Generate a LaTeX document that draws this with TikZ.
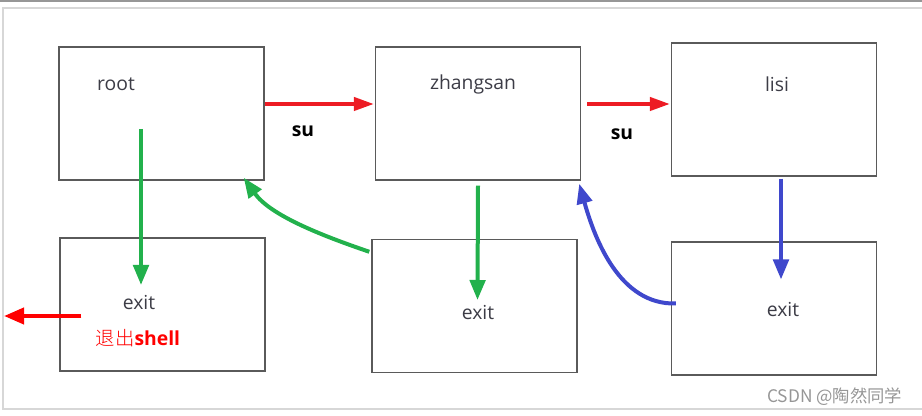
\documentclass[tikz,border=0pt]{standalone}
\usepackage{fontspec}
\setmainfont{Open Sans}
\newfontfamily\cjkfont{Noto Sans CJK SC}
\newfontfamily\cjklight{Noto Sans CJK SC Light}
\usepackage{tikz}
\usetikzlibrary{arrows.meta, positioning, calc}
\definecolor{boxgray}{RGB}{90,90,90}
\definecolor{txtgray}{RGB}{60,60,70}
\definecolor{sured}{RGB}{237,28,36}
\definecolor{quitred}{RGB}{255,0,0}
\definecolor{exgreen}{RGB}{34,177,76}
\definecolor{exblue}{RGB}{63,72,204}
\definecolor{framegray}{RGB}{215,215,215}
\definecolor{markgray}{RGB}{150,150,150}
\tikzset{
  box/.style={rectangle, draw=boxgray, line width=1.1pt,
    minimum width=153.75pt, minimum height=99.75pt, inner sep=0pt},
  usrlabel/.style={font=\fontsize{14.5}{16}\selectfont, color=txtgray},
  sulabel/.style={font=\fontsize{14.5}{16}\selectfont\bfseries, color=black},
  redarrow/.style={-{Triangle[length=15pt, width=10pt]}, line width=2.6pt, color=sured},
  greenarrow/.style={-{Triangle[length=15pt, width=11.5pt]}, line width=3pt, color=exgreen},
  bluearrow/.style={-{Triangle[length=15pt, width=11.5pt]}, line width=3pt, color=exblue},
  quitarrow/.style={-{Triangle[length=15pt, width=12pt]}, line width=3pt, color=quitred}
}
\begin{document}
\begin{tikzpicture}[x=0.75pt, y=-0.75pt]
  \useasboundingbox (0,0) rectangle (922,416);
  % page frame
  \draw[color=markgray, line width=0.8pt] (0,1) -- (922,1);
  \draw[color=framegray, line width=1pt] (3,8) rectangle (930,409);

  % user boxes (top row)
  \node[box] (root) at (161.5,113.5) {};
  \node[box] (zhangsan) at (478,113.5) {};
  \node[box] (lisi) at (774,109.5) {};
  \node[usrlabel] (rootlbl) at (116,84) {root};
  \node[usrlabel] (zhanglbl) at (473,84) {zhangsan};
  \node[usrlabel] (lisilbl) at (777,84) {lisi};

  % exit boxes (bottom row)
  \node[box] (exitroot) at (162.5,304.5) {};
  \node[box] (exitzhang) at (474.5,306) {};
  \node[box] (exitlisi) at (774,308.5) {};
  \node[usrlabel] (exitlbl1) at (139,303) {exit};
  \node[font=\fontsize{14.5}{16}\selectfont, color=quitred] (quitlbl) at (138,338) {{\cjklight\mdseries 退出}\textbf{shell}};
  \node[usrlabel] (exitlbl2) at (478,313) {exit};
  \node[usrlabel] (exitlbl3) at (783,310) {exit};

  % su arrows
  \draw[redarrow] ($(root.east)+(0,-9.5)$) -- ($(zhangsan.west)+(-1,-9.5)$);
  \draw[redarrow] ($(zhangsan.east)+(6,-9.5)$) -- ($(lisi.west)+(-1,-5.5)$);
  \node[sulabel] (su1) at (303,131) {su};
  \node[sulabel] (su2) at (622,134) {su};

  % exit arrows
  \draw[greenarrow] ($(root.center)+(-20.5,15.5)$) -- ($(exitroot.center)+(-21.5,-19.5)$);
  \draw[greenarrow] ($(zhangsan.south)+(0,5)$) -- ($(exitzhang.center)+(3,-6)$);
  \draw[bluearrow] ($(lisi.south)+(7,2)$) -- ($(exitlisi.center)+(7,-29)$);

  % back to previous user
  \draw[greenarrow] ($(exitzhang.north west)+(-2,13)$) .. controls (320,235) and (270,215) .. ($(root.south east)+(-21,-3)$);
  \draw[bluearrow] ($(exitlisi.west)+(5,-5)$) .. controls (620,305) and (595,240) .. ($(zhangsan.south east)+(-2,3)$);

  % leave the shell
  \coordinate (shellout) at (4,316);
  \draw[quitarrow] ($(exitroot.west)+(22,11.5)$) -- (shellout);

  \node[font=\fontsize{13}{15}\selectfont\cjkfont, color=markgray, anchor=east] (mark) at (907,397) {CSDN @陶然同学};
\end{tikzpicture}
\end{document}
